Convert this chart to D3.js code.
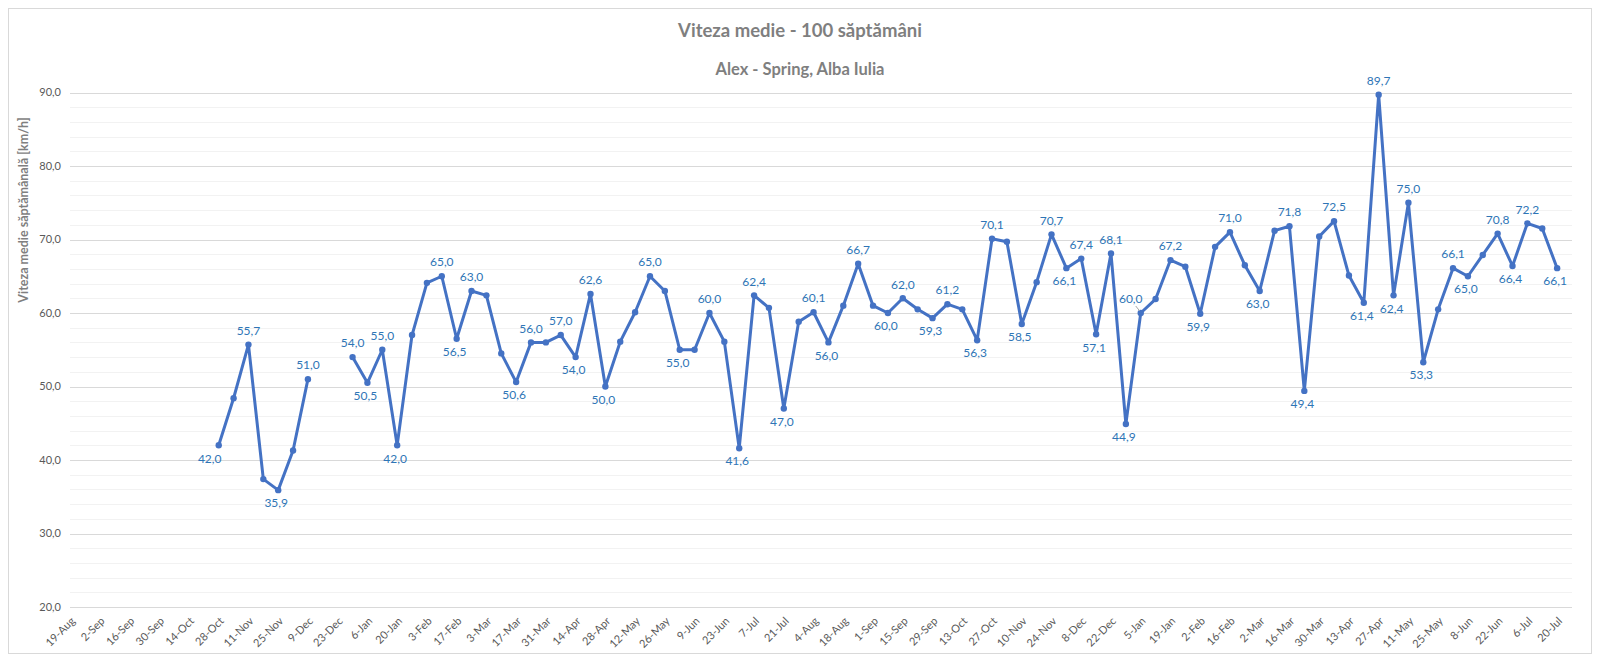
<!DOCTYPE html>
<html lang="ro">
<head>
  <meta charset="UTF-8">
  <title>Viteza medie - 100 săptămâni</title>
  <style>
    body {
      margin: 0;
      background: #fff;
    }

    svg {
      display: block;
      font-family: Lato, "Open Sans", sans-serif;
    }

    .grid line {
      shape-rendering: crispEdges;
    }

    .grid path {
      display: none;
    }

    .title {
      fill: #7f7f7f;
      font-weight: bold;
    }

    .tick-label {
      fill: #595959;
      font-size: 11px;
    }

    .data-label {
      fill: #2e75b6;
      font-size: 12px;
    }
  </style>
</head>
<body>
  <svg id="chart" width="1600" height="658"></svg>
  <script src="https://d3js.org/d3.v7.min.js"></script>
  <script>
    // one label every second week, starting with week 0
    const tickLabels = [
      "19-Aug", "2-Sep", "16-Sep", "30-Sep", "14-Oct", "28-Oct", "11-Nov", "25-Nov", "9-Dec",
      "23-Dec", "6-Jan", "20-Jan", "3-Feb", "17-Feb", "3-Mar", "17-Mar", "31-Mar", "14-Apr",
      "28-Apr", "12-May", "26-May", "9-Jun", "23-Jun", "7-Jul", "21-Jul", "4-Aug", "18-Aug",
      "1-Sep", "15-Sep", "29-Sep", "13-Oct", "27-Oct", "10-Nov", "24-Nov", "8-Dec", "22-Dec",
      "5-Jan", "19-Jan", "2-Feb", "16-Feb", "2-Mar", "16-Mar", "30-Mar", "13-Apr", "27-Apr",
      "11-May", "25-May", "8-Jun", "22-Jun", "6-Jul", "20-Jul"
    ];

    // weekly average speed, km/h (null = no data that week)
    const speeds = [
      null, null, null, null, null, null, null, null, null, null,
      42.0, 48.4, 55.7, 37.4, 35.9, 41.3, 51.0, null, null, 54.0,
      50.5, 55.0, 42.0, 57.0, 64.1, 65.0, 56.5, 63.0, 62.4, 54.5,
      50.6, 56.0, 56.0, 57.0, 54.0, 62.6, 50.0, 56.1, 60.1, 65.0,
      63.0, 55.0, 55.0, 60.0, 56.1, 41.6, 62.4, 60.7, 47.0, 58.8,
      60.1, 56.0, 61.0, 66.7, 61.0, 60.0, 62.0, 60.5, 59.3, 61.2,
      60.5, 56.3, 70.1, 69.7, 58.5, 64.2, 70.7, 66.1, 67.4, 57.1,
      68.1, 44.9, 60.0, 61.9, 67.2, 66.3, 59.9, 69.0, 71.0, 66.5,
      63.0, 71.2, 71.8, 49.4, 70.4, 72.5, 65.1, 61.4, 89.7, 62.4,
      75.0, 53.3, 60.5, 66.1, 65.0, 67.9, 70.8, 66.4, 72.2, 71.5,
      66.1
    ];

    // weeks that carry a value label
    const labelledWeeks = [
      10, 12, 14, 16, 19, 20, 21, 22, 25, 26, 27, 30, 31, 33, 34, 35, 36, 39, 41, 43,
      45, 46, 48, 50, 51, 53, 55, 56, 58, 59, 61, 62, 64, 66, 67, 68, 69, 70, 71, 72,
      74, 76, 78, 80, 82, 83, 85, 87, 88, 89, 90, 91, 93, 94, 96, 97, 98, 100
    ];

    const yMajor = [20, 30, 40, 50, 60, 70, 80, 90];

    const svg = d3.select("#chart");
    const plot = { left: 70, right: 1572, top: 92.5, bottom: 607 };

    const fmt = v => d3.format(".1f")(v).replace(".", ",");
    const has = v => v !== null && v !== undefined;

    const x = d3.scaleLinear()
      .domain([0, 101])
      .range([plot.left, plot.right]);

    const y = d3.scaleLinear()
      .domain([20, 90])
      .range([plot.bottom, plot.top]);

    // chart border
    svg.append("rect")
      .attr("x", 8.5).attr("y", 8.5)
      .attr("width", 1583).attr("height", 645)
      .attr("fill", "#fff")
      .attr("stroke", "#d9d9d9");

    // minor gridlines
    svg.append("g")
      .attr("class", "grid")
      .attr("transform", `translate(${plot.left},0)`)
      .call(d3.axisLeft(y).tickValues(d3.range(22, 90, 2)).tickSize(-(plot.right - plot.left)).tickFormat(""))
      .selectAll("line")
      .attr("stroke", "#f2f2f2");

    // major gridlines
    svg.append("g")
      .attr("class", "grid")
      .attr("transform", `translate(${plot.left},0)`)
      .call(d3.axisLeft(y).tickValues(yMajor).tickSize(-(plot.right - plot.left)).tickFormat(""))
      .selectAll("line")
      .attr("stroke", "#d9d9d9");

    // y tick labels
    svg.append("g")
      .selectAll("text")
      .data(yMajor)
      .join("text")
      .attr("class", "tick-label")
      .attr("x", 61)
      .attr("y", d => y(d))
      .attr("dy", "0.35em")
      .attr("text-anchor", "end")
      .text(fmt);

    // x tick labels
    svg.append("g")
      .selectAll("text")
      .data(tickLabels)
      .join("text")
      .attr("class", "tick-label")
      .attr("font-size", "10.5px")
      .attr("text-anchor", "end")
      .attr("dy", "0.35em")
      .attr("transform", (d, i) => `translate(${x(i * 2) + 3},${619}) rotate(-45)`)
      .text(d => d);

    // titles
    svg.append("text")
      .attr("class", "title")
      .attr("x", 800).attr("y", 31)
      .attr("dy", "0.35em")
      .attr("text-anchor", "middle")
      .attr("font-size", "18.5px")
      .text("Viteza medie - 100 săptămâni");

    svg.append("text")
      .attr("class", "title")
      .attr("x", 800).attr("y", 69)
      .attr("dy", "0.35em")
      .attr("text-anchor", "middle")
      .attr("font-size", "16.5px")
      .text("Alex - Spring, Alba Iulia");

    svg.append("text")
      .attr("class", "title")
      .attr("font-size", "12.5px")
      .attr("text-anchor", "middle")
      .attr("dy", "0.35em")
      .attr("transform", "translate(24,210) rotate(-90)")
      .text("Viteza medie săptămânală [km/h]");

    // series
    const points = speeds.map((v, i) => ({ i, v }));

    const line = d3.line()
      .defined(d => d.v !== null)
      .x(d => x(d.i))
      .y(d => y(d.v));

    svg.append("path")
      .datum(points)
      .attr("fill", "none")
      .attr("stroke", "#4472c4")
      .attr("stroke-width", 3)
      .attr("stroke-linejoin", "round")
      .attr("d", line);

    svg.append("g")
      .selectAll("circle")
      .data(points.filter(d => d.v !== null))
      .join("circle")
      .attr("cx", d => x(d.i))
      .attr("cy", d => y(d.v))
      .attr("r", 3.2)
      .attr("fill", "#4472c4");

    // data labels: above a point that sits higher than its neighbours, below otherwise
    const labels = labelledWeeks.map(i => {
      const v = speeds[i];
      const prev = speeds[i - 1];
      const next = speeds[i + 1];
      const above = v >= d3.mean([prev, next].filter(has));
      const offside = above && has(next) && next > v; // label pushed aside, with a leader
      const first = !has(prev);
      let dx = above ? 0 : -2;
      if (offside) dx = -10;
      else if (first && !above) dx = -9;
      return { i, v, above, offside, dx };
    });

    const lbl = svg.append("g");

    lbl.selectAll("line")
      .data(labels.filter(d => d.offside))
      .join("line")
      .attr("x1", d => x(d.i) - 5)
      .attr("y1", d => y(d.v) - 7)
      .attr("x2", d => x(d.i) - 1)
      .attr("y2", d => y(d.v) - 2)
      .attr("stroke", "#a6a6a6");

    lbl.selectAll("text")
      .data(labels)
      .join("text")
      .attr("class", "data-label")
      .attr("text-anchor", "middle")
      .attr("dy", "0.35em")
      .attr("x", d => x(d.i) + d.dx)
      .attr("y", d => y(d.v) + (d.above ? -14 : 13))
      .text(d => fmt(d.v));
  </script>
</body>
</html>
